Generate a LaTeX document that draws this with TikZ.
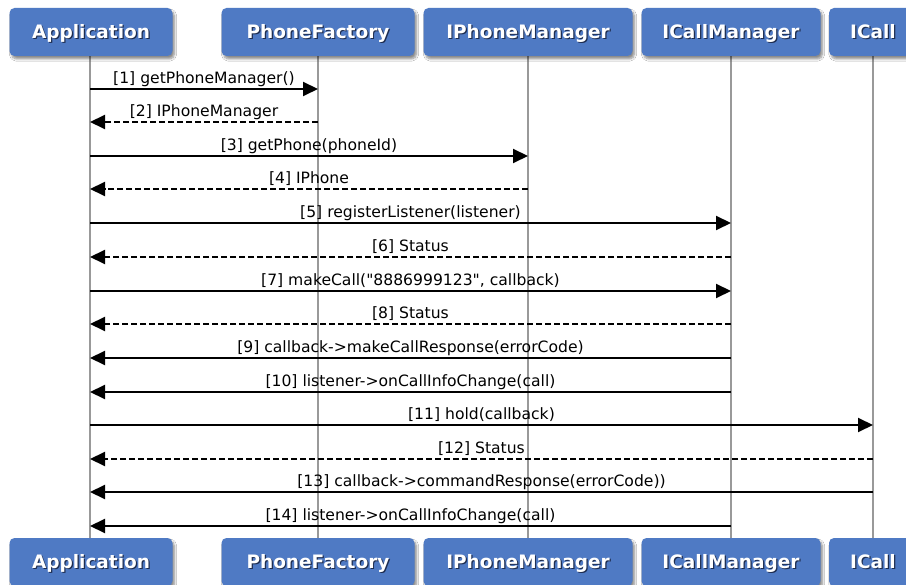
\documentclass[tikz,border=0pt]{standalone}
\usepackage{fontspec}
\setmainfont{DejaVu Sans}[Ligatures=TeXOff]
\usetikzlibrary{arrows.meta,shadows.blur,calc}
\definecolor{boxblue}{RGB}{79,122,196}
\definecolor{txtshadow}{RGB}{30,45,80}
\newcommand\hdrtext[1]{\makebox[0pt][l]{\hspace{1.2pt}\raisebox{-1.2pt}{\textcolor{txtshadow}{#1}}}\textcolor{white}{#1}}
\begin{document}
\begin{tikzpicture}[x=1pt,y=-1pt,
  actor/.style={fill=boxblue, rounded corners=5pt, minimum height=48pt, inner sep=0pt,
    text height=13.5pt, text depth=0pt,
    font=\fontsize{18.5}{20}\selectfont\bfseries,
    blur shadow={shadow xshift=2pt, shadow yshift=-3pt, shadow blur steps=6, shadow opacity=45}},
  lifeline/.style={draw=black!40, line width=1.8pt},
  call/.style={draw=black, line width=2pt, -{Triangle[length=15pt,width=14pt]}},
  reply/.style={call, dash pattern=on 6pt off 3pt},
  lbl/.style={font=\fontsize{15.6}{17}\selectfont, anchor=base, inner sep=0pt, yshift=5pt}
]
\useasboundingbox (0,0) rectangle (906,585);
\fill[white] (0,0) rectangle (906,585);

% lifelines
\coordinate (appL) at (90,56);   \coordinate (appR) at (90,538);
\coordinate (pfL) at (318,56);   \coordinate (pfR) at (318,538);
\coordinate (ipmL) at (528,56);  \coordinate (ipmR) at (528,538);
\coordinate (icmL) at (731,56);  \coordinate (icmR) at (731,538);
\coordinate (icL) at (873,56);   \coordinate (icR) at (873,538);
\draw[lifeline] (appL) -- (appR);
\draw[lifeline] (pfL) -- (pfR);
\draw[lifeline] (ipmL) -- (ipmR);
\draw[lifeline] (icmL) -- (icmR);
\draw[lifeline] (icL) -- (icR);

% header boxes
\node[actor, minimum width=163pt] (appT) at (91,32) {\hdrtext{Application}};
\node[actor, minimum width=193pt] (pfT) at (318,32) {\hdrtext{PhoneFactory}};
\node[actor, minimum width=209pt] (ipmT) at (528,32) {\hdrtext{IPhoneManager}};
\node[actor, minimum width=179pt] (icmT) at (731,32) {\hdrtext{ICallManager}};
\node[actor, minimum width=88pt] (icT) at (873,32) {\hdrtext{ICall}};

\node[actor, minimum width=163pt] (appB) at (91,562) {\hdrtext{Application}};
\node[actor, minimum width=193pt] (pfB) at (318,562) {\hdrtext{PhoneFactory}};
\node[actor, minimum width=209pt] (ipmB) at (528,562) {\hdrtext{IPhoneManager}};
\node[actor, minimum width=179pt] (icmB) at (731,562) {\hdrtext{ICallManager}};
\node[actor, minimum width=88pt] (icB) at (873,562) {\hdrtext{ICall}};

% messages
\draw[call]  (appL |- 0,89)  -- node[lbl]{[1] getPhoneManager()} (pfL |- 0,89);
\draw[reply] (pfL |- 0,122)  -- node[lbl]{[2] IPhoneManager} (appL |- 0,122);
\draw[call]  (appL |- 0,156) -- node[lbl]{[3] getPhone(phoneId)} (ipmL |- 0,156);
\draw[reply] (ipmL |- 0,189) -- node[lbl]{[4] IPhone} (appL |- 0,189);
\draw[call]  (appL |- 0,223) -- node[lbl]{[5] registerListener(listener)} (icmL |- 0,223);
\draw[reply] (icmL |- 0,257) -- node[lbl]{[6] Status} (appL |- 0,257);
\draw[call]  (appL |- 0,291) -- node[lbl]{[7] makeCall("8886999123", callback)} (icmL |- 0,291);
\draw[reply] (icmL |- 0,324) -- node[lbl]{[8] Status} (appL |- 0,324);
\draw[call]  (icmL |- 0,358) -- node[lbl]{[9] callback->makeCallResponse(errorCode)} (appL |- 0,358);
\draw[call]  (icmL |- 0,392) -- node[lbl]{[10] listener->onCallInfoChange(call)} (appL |- 0,392);
\draw[call]  (appL |- 0,425) -- node[lbl]{[11] hold(callback)} (icL |- 0,425);
\draw[reply] (icL |- 0,459)  -- node[lbl]{[12] Status} (appL |- 0,459);
\draw[call]  (icL |- 0,492)  -- node[lbl]{[13] callback->commandResponse(errorCode))} (appL |- 0,492);
\draw[call]  (icmL |- 0,526) -- node[lbl]{[14] listener->onCallInfoChange(call)} (appL |- 0,526);
\end{tikzpicture}
\end{document}
